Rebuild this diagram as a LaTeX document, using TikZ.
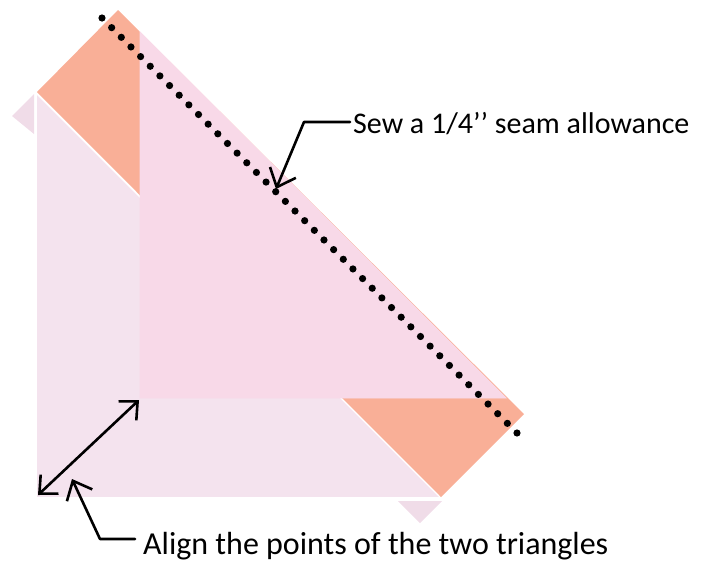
\documentclass[tikz,border=0pt]{standalone}
\usepackage{fontspec}
\setmainfont{Carlito}
\usetikzlibrary{arrows.meta}

\definecolor{salmon}{HTML}{F9AF97}
\definecolor{pinkdark}{HTML}{F8D9E8}
\definecolor{pinklight}{HTML}{F4E3EE}
\definecolor{pinktip}{HTML}{F0DCE8}

\tikzset{
  leader/.style={line width=2.6pt, line cap=round, line join=round},
  barb/.style={-{Straight Barb[length=16pt,width=28pt,line width=2.6pt]}},
  label/.style={inner sep=0pt}
}

\begin{document}
\begin{tikzpicture}[x=1pt,y=-1pt]

    \useasboundingbox (0,0) rectangle (701,563);

    % --- Fabric underneath: only its two points show ---
    \fill[pinktip] (12,116) -- (34,94) -- (34,134) -- cycle;
    \fill[pinktip] (398,501) -- (442,501) -- (420,523) -- cycle;

    % --- Orange strip along the diagonal ---
    \fill[salmon] (118,10) -- (524,414) -- (441,497) -- (37,92) -- cycle;

    % --- Light triangle (bottom left), white edge on its legs ---
    \fill[pinklight] (36,94) -- (36,498) -- (440,498) -- cycle;
    \draw[white, line width=1.5pt] (36,94) -- (36,498) -- (440,498);

    % --- Darker triangle on top ---
    \filldraw[pinkdark, draw=pinkdark, line width=0.8pt]
        (140,32) -- (140,398) -- (506,398) -- cycle;

    % --- Stitch line: dots ---
    \foreach \i in {0,...,43}
        \fill ({102+\i*9.651},{18+\i*9.651}) circle (3.6pt);

    % --- Seam label and its leader ---
    \node[label, anchor=base west, font=\fontsize{30}{36}\selectfont]
        (sew) at (353,133) {Sew a 1/4’’ seam allowance};
    \coordinate (sewBend) at (304,122);
    \coordinate (seamPt) at (276,189);
    \draw[leader, barb] ([xshift=-3pt]sew.west |- sewBend) -- (sewBend) -- (seamPt);

    % --- Points: double arrow between the two corners ---
    \coordinate (cornerOut) at (38,495);
    \coordinate (cornerIn) at (139,400);
    \draw[leader, {Straight Barb[length=14pt,width=26pt,line width=2.6pt]}-{Straight Barb[length=14pt,width=26pt,line width=2.6pt]}]
        (cornerOut) -- (cornerIn);

    % --- Align label and its leader ---
    \node[label, anchor=base west, font=\fontsize{32}{38}\selectfont]
        (align) at (143,554) {Align the points of the two triangles};
    \coordinate (alignBend) at (100,539);
    \coordinate (alignPt) at (72,479);
    \draw[leader, barb] ([xshift=-8pt]align.west |- alignBend) -- (alignBend) -- (alignPt);

\end{tikzpicture}
\end{document}
